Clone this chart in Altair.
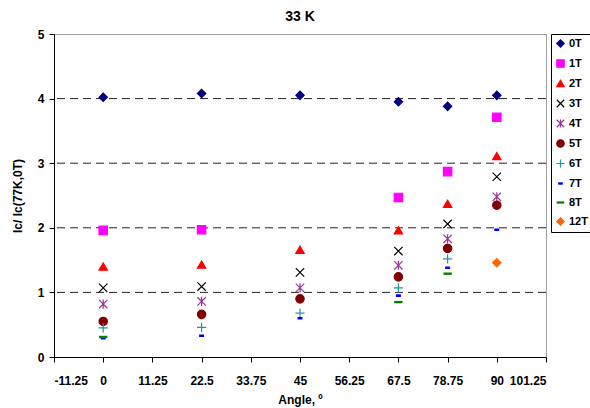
import altair as alt
import pandas as pd

angles = [0, 22.5, 45, 67.5, 78.75, 90]
series_names = ["0T", "1T", "2T", "3T", "4T", "5T", "6T", "7T", "8T", "12T"]
v0T = [4.02, 4.08, 4.05, 3.95, 3.88, 4.05]
v1T = [1.96, 1.97, None, 2.47, 2.87, 3.71]
v2T = [1.40, 1.43, 1.66, 1.96, 2.37, 3.11]
v3T = [1.07, 1.09, 1.31, 1.64, 2.06, 2.79]
v4T = [0.82, 0.86, 1.07, 1.42, 1.83, 2.48]
v5T = [0.55, 0.66, 0.90, 1.24, 1.68, 2.35]
v6T = [0.45, 0.46, 0.68, 1.07, 1.52, None]
v7T = [0.29, 0.33, 0.60, 0.95, 1.38, 1.97]
v8T = [0.31, None, None, 0.85, 1.29, None]
v12T = [None, None, None, None, None, 1.46]
x_ticks = [-11.25, 0, 11.25, 22.5, 33.75, 45, 56.25, 67.5, 78.75, 90, 101.25]
y_ticks = [0, 1, 2, 3, 4, 5]
grid_values = [1, 2, 3, 4]

colors = ["#000080", "#FF00FF", "#FF0000", "#000000", "#993399",
          "#800000", "#1A9A9A", "#0000FF", "#008000", "#FF6600"]
shapes = [
    "diamond",
    "square",
    "triangle-up",
    "M-1,-1L1,1M-1,1L1,-1",
    "M-1,-1L1,1M-1,1L1,-1M0,-1.1L0,1.1",
    "circle",
    "M-1.1,0L1.1,0M0,-1.1L0,1.1",
    "M-0.45,-0.16L0.45,-0.16L0.45,0.16L-0.45,0.16Z",
    "M-0.85,-0.14L0.85,-0.14L0.85,0.14L-0.85,0.14Z",
    "diamond",
]

all_vals = [v0T, v1T, v2T, v3T, v4T, v5T, v6T, v7T, v8T, v12T]
rows = []
for name, vals in zip(series_names, all_vals):
    for a, v in zip(angles, vals):
        if v is not None:
            rows.append({"angle": a, "value": v, "series": name})
df = pd.DataFrame(rows)
grid_df = pd.DataFrame({"g": grid_values})

FONT = "Liberation Sans"

xscale = alt.Scale(domain=[-11.25, 101.25], nice=False, zero=False)
yscale = alt.Scale(domain=[0, 5], nice=False)
yaxis = alt.Axis(values=y_ticks, title="Ic/ Ic(77K,0T)", grid=False,
                 tickSize=5, labelPadding=5, titlePadding=13)
xaxis = alt.Axis(values=x_ticks, labelExpr="datum.value + ''", title="Angle, º",
                 grid=False, tickSize=5, labelPadding=13, titlePadding=8)

grid = alt.Chart(grid_df).mark_rule(color="#222222", strokeDash=[8, 5], strokeWidth=1).encode(
    y=alt.Y("g:Q", scale=yscale, axis=yaxis)
)

points = alt.Chart(df).mark_point(filled=True, size=70, strokeWidth=1.2, opacity=1).encode(
    x=alt.X("angle:Q", scale=xscale, axis=xaxis),
    y=alt.Y("value:Q", scale=yscale, axis=yaxis),
    fill=alt.Fill("series:N", scale=alt.Scale(domain=series_names, range=colors),
                  legend=alt.Legend(title=None)),
    stroke=alt.Stroke("series:N", scale=alt.Scale(domain=series_names, range=colors),
                      legend=alt.Legend(title=None)),
    shape=alt.Shape("series:N", scale=alt.Scale(domain=series_names, range=shapes),
                    legend=alt.Legend(title=None)),
)

chart = alt.layer(grid, points).properties(
    width=492, height=323,
    title=alt.TitleParams("33 K", font=FONT, fontSize=14, fontWeight="bold",
                          anchor="middle", offset=4, color="#000000"),
    autosize=alt.AutoSizeParams(type="none"),
    padding={"left": 54, "top": 34, "right": 44, "bottom": 51},
).configure_view(
    stroke="#A0A0A0", strokeWidth=1
).configure_axis(
    labelFont=FONT, labelFontSize=12, labelFontWeight="bold", labelColor="#000000",
    titleFont=FONT, titleFontSize=12, titleFontWeight="bold", titleColor="#000000",
    domainColor="#000000", tickColor="#000000", domainWidth=1, tickWidth=1,
).configure_legend(
    orient="none", legendX=497, legendY=0,
    strokeColor="#000000", fillColor="#FFFFFF", padding=4,
    labelFont=FONT, labelFontSize=11, labelFontWeight="bold", labelColor="#000000",
    symbolSize=55, symbolStrokeWidth=1.2, rowPadding=7, labelOffset=3,
    symbolOffset=0,
)

chart.save("out.html", embed_options={"renderer": "svg", "actions": False})
